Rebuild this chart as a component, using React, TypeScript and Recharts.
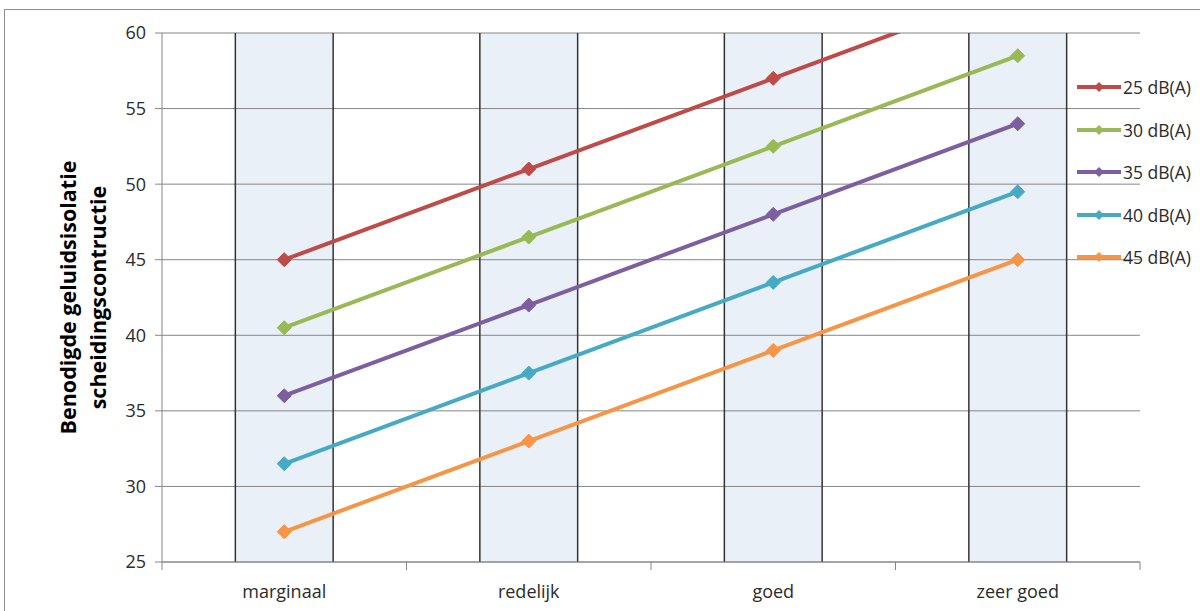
import React from 'react';
import {
  LineChart,
  Line,
  XAxis,
  YAxis,
  CartesianGrid,
  ReferenceArea,
  ReferenceLine,
  Legend,
} from 'recharts';

// Assessment categories along the horizontal axis
const categories = ['marginaal', 'redelijk', 'goed', 'zeer goed'];

// Required sound insulation per background level
const seriesNames = ['25 dB(A)', '30 dB(A)', '35 dB(A)', '40 dB(A)', '45 dB(A)'];
const values25 = [45, 51, 57, 63];
const values30 = [40.5, 46.5, 52.5, 58.5];
const values35 = [36, 42, 48, 54];
const values40 = [31.5, 37.5, 43.5, 49.5];
const values45 = [27, 33, 39, 45];

const yTicks = [25, 30, 35, 40, 45, 50, 55, 60];
const seriesColors = ['#BE4B48', '#98B954', '#7D5FA0', '#46AAC5', '#F69545'];

const seriesValues = [values25, values30, values35, values40, values45];

const data = categories.map((category, i) => {
  const row: Record<string, number | string> = { idx: i, category };
  seriesNames.forEach((name, s) => {
    row[name] = seriesValues[s][i];
  });
  return row;
});

// tick positions: category centres plus the boundaries between them
const xTicks: number[] = [];
categories.forEach((_, i) => {
  xTicks.push(i - 0.5, i);
});
xTicks.push(categories.length - 0.5);

const BAND_HALF = 0.2;
const FONT = '"Open Sans", "DejaVu Sans", sans-serif';
const GRID = '#868686';
const TEXT = '#2b2b2b';
const TICK_SIZE = 8;

const makeDiamond = (color: string) => (props: any) => {
  const { cx, cy, index } = props;
  if (cx == null || cy == null) return <g key={`d-${index}`} />;
  const r = 7;
  return (
    <polygon
      key={`d-${index}`}
      points={`${cx},${cy - r} ${cx + r},${cy} ${cx},${cy + r} ${cx - r},${cy}`}
      fill={color}
      stroke={color}
      strokeWidth={1}
    />
  );
};

const XTick = (props: any) => {
  const { x, y, payload } = props;
  const v = payload.value as number;
  const axisY = y - TICK_SIZE;
  if (Number.isInteger(v)) {
    return (
      <text
        x={x}
        y={axisY + 36}
        textAnchor="middle"
        fontFamily={FONT}
        fontSize={18}
        fill={TEXT}
      >
        {categories[v]}
      </text>
    );
  }
  return <line x1={x} y1={axisY} x2={x} y2={axisY + TICK_SIZE} stroke={GRID} strokeWidth={1} />;
};

const YTitle = (props: any) => {
  const vb = props.viewBox || {};
  const cy = (vb.y ?? 33) + (vb.height ?? 529) / 2;
  const lines = [
    { text: 'Benodigde geluidsisolatie', x: 76 },
    { text: 'scheidingscontructie', x: 106 },
  ];
  return (
    <g>
      {lines.map((l) => (
        <text
          key={l.text}
          x={l.x}
          y={cy}
          transform={`rotate(-90, ${l.x}, ${cy})`}
          textAnchor="middle"
          fontFamily={FONT}
          fontWeight={700}
          fontSize={21.5}
          fill="#000"
        >
          {l.text}
        </text>
      ))}
    </g>
  );
};

const LegendContent = () => (
  <div style={{ fontFamily: FONT, fontSize: 17.5, color: TEXT }}>
    {seriesNames.map((name, i) => (
      <div key={name} style={{ display: 'flex', alignItems: 'center', height: 42.5 }}>
        <svg width={46} height={14} style={{ display: 'block' }}>
          <line x1={1} y1={7} x2={45} y2={7} stroke={seriesColors[i]} strokeWidth={4} />
          <polygon points="23,2 28,7 23,12 18,7" fill={seriesColors[i]} />
        </svg>
        <span style={{ marginLeft: 1, whiteSpace: 'nowrap' }}>{name}</span>
      </div>
    ))}
  </div>
);

export default function App() {
  return (
    <div
      style={{
        position: 'absolute',
        left: 0,
        top: 0,
        width: 1200,
        height: 611,
        overflow: 'hidden',
        background: '#fff',
      }}
    >
      <div
        style={{
          position: 'absolute',
          left: 4,
          top: 9,
          width: 1300,
          height: 700,
          border: '1px solid #8c8c8c',
        }}
      />
      <div style={{ position: 'absolute', left: 0, top: 0 }}>
        <LineChart
          width={1200}
          height={611}
          data={data}
          margin={{ top: 33, right: 60, bottom: 0, left: 0 }}
        >
          {categories.map((c, i) => (
            <ReferenceArea
              key={`band-${c}`}
              x1={i - BAND_HALF}
              x2={i + BAND_HALF}
              y1={25}
              y2={60}
              fill="#EAF0F8"
              fillOpacity={1}
              stroke="none"
              zIndex={-300}
            />
          ))}
          <CartesianGrid vertical={false} stroke={GRID} strokeWidth={1} zIndex={-100} />
          {categories.flatMap((c, i) => [
            <ReferenceLine key={`l-${c}`} x={i - BAND_HALF} stroke="#333" strokeWidth={1.5} zIndex={-50} />,
            <ReferenceLine key={`r-${c}`} x={i + BAND_HALF} stroke="#333" strokeWidth={1.5} zIndex={-50} />,
          ])}
          <XAxis
            dataKey="idx"
            type="number"
            domain={[-0.5, categories.length - 0.5]}
            ticks={xTicks}
            interval={0}
            height={49}
            tickSize={TICK_SIZE}
            tickMargin={0}
            tickLine={false}
            axisLine={{ stroke: GRID, strokeWidth: 1 }}
            tick={<XTick />}
          />
          <YAxis
            type="number"
            domain={[25, 60]}
            ticks={yTicks}
            allowDataOverflow
            width={162}
            tickSize={7}
            tickMargin={9}
            axisLine={{ stroke: GRID, strokeWidth: 1 }}
            tickLine={{ stroke: GRID, strokeWidth: 1 }}
            tick={{ fontFamily: FONT, fontSize: 18, fill: TEXT }}
            label={{ content: <YTitle /> }}
          />
          <Legend
            layout="vertical"
            align="center"
            verticalAlign="middle"
            wrapperStyle={{ left: 1076, top: 66, width: 124 }}
            content={<LegendContent />}
          />
          {seriesNames.map((name, i) => (
            <Line
              key={name}
              type="linear"
              dataKey={name}
              stroke={seriesColors[i]}
              strokeWidth={4}
              dot={makeDiamond(seriesColors[i])}
              activeDot={false}
              isAnimationActive={false}
            />
          ))}
        </LineChart>
      </div>
    </div>
  );
}
